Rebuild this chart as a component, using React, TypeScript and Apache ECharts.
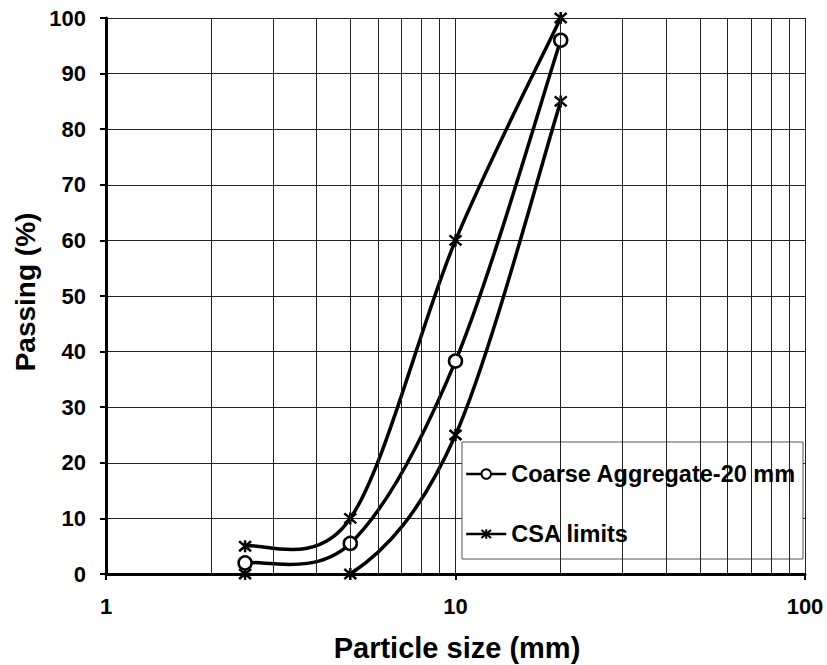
import React, { useEffect, useRef } from "react";
import * as echarts from "echarts";

const SIZES = [2.5, 5, 10, 20];
const COARSE = [2, 5.5, 38.3, 96];
const CSA_UPPER = [5, 10, 60, 100];
const CSA_LOWER = [0, 0, 25, 85];
const MINOR_X = [2, 3, 4, 5, 6, 7, 8, 9, 20, 30, 40, 50, 60, 70, 80, 90];
const NAME_COARSE = "Coarse Aggregate-20 mm";
const NAME_CSA = "CSA limits";
const X_TITLE = "Particle size (mm)";
const Y_TITLE = "Passing (%)";

const FONT = "'Liberation Sans', Arial, sans-serif";
const STAR = "path://M0,0L10,10M10,0L0,10M5,-1L5,11";
const TENSION = 1 / 6;

function curveSeries(id: string, ys: number[]) {
  return {
    id,
    name: id,
    type: "custom",
    silent: true,
    z: 2,
    data: [[SIZES[0], ys[0]]],
    renderItem: (params: any, api: any) => {
      const P = SIZES.map((x, i) => api.coord([x, ys[i]]));
      let d = `M${P[0][0]},${P[0][1]}`;
      for (let i = 0; i < P.length - 1; i++) {
        const p0 = P[i - 1] || P[i];
        const p1 = P[i];
        const p2 = P[i + 1];
        const p3 = P[i + 2] || P[i + 1];
        const c1x = p1[0] + (p2[0] - p0[0]) * TENSION;
        const c1y = p1[1] + (p2[1] - p0[1]) * TENSION;
        const c2x = p2[0] - (p3[0] - p1[0]) * TENSION;
        const c2y = p2[1] - (p3[1] - p1[1]) * TENSION;
        d += ` C${c1x},${c1y} ${c2x},${c2y} ${p2[0]},${p2[1]}`;
      }
      const cs = params.coordSys;
      return {
        type: "path",
        shape: { pathData: d },
        style: { fill: "none", stroke: "#000", lineWidth: 3.5 },
        clipPath: { type: "rect", shape: { x: cs.x, y: cs.y, width: cs.width, height: cs.height } },
      };
    },
  };
}

export default function App() {
  const ref = useRef<HTMLDivElement>(null);
  useEffect(() => {
    if (!ref.current) return;
    const chart = echarts.init(ref.current, null, { renderer: "svg" });
    const pts = (ys: number[]) => SIZES.map((x, i) => [x, ys[i]]);
    const hiddenLine = { color: "#000", width: 3, opacity: 0 };
    chart.setOption({
      animation: false,
      backgroundColor: "#fff",
      grid: { left: 106, top: 18, width: 699, height: 556 },
      xAxis: {
        type: "log",
        logBase: 10,
        min: 1,
        max: 100,
        axisLine: { show: true, onZero: false, lineStyle: { color: "#000", width: 3 } },
        axisTick: { show: true, length: 6, lineStyle: { color: "#000", width: 2 } },
        axisLabel: { color: "#000", fontFamily: FONT, fontWeight: "bold", fontSize: 22, margin: 21 },
        splitLine: { show: true, lineStyle: { color: "#222", width: 1 } },
        minorTick: { show: false },
        minorSplitLine: { show: false },
      },
      yAxis: {
        type: "value",
        min: 0,
        max: 100,
        interval: 10,
        axisLine: { show: true, lineStyle: { color: "#000", width: 3 } },
        axisTick: { show: true, length: 6, lineStyle: { color: "#000", width: 2 } },
        axisLabel: { color: "#000", fontFamily: FONT, fontWeight: "bold", fontSize: 22, margin: 20 },
        splitLine: { show: true, lineStyle: { color: "#222", width: 1 } },
      },
      legend: {
        data: [NAME_COARSE, NAME_CSA],
        orient: "vertical",
        left: 460,
        top: 457,
        itemGap: 36,
        itemWidth: 40,
        itemHeight: 12,
        z: 10,
        lineStyle: { color: "#000", width: 2.5, opacity: 1 },
        textStyle: { color: "#000", fontFamily: FONT, fontWeight: "bold", fontSize: 23.5 },
      },
      graphic: [
        {
          type: "rect",
          z: 5,
          shape: { x: 462, y: 442, width: 341, height: 117 },
          style: { fill: "#fff", stroke: "#555", lineWidth: 1 },
        },
        {
          type: "text",
          x: 457,
          y: 648,
          style: {
            text: X_TITLE,
            fill: "#000",
            font: `bold 29px ${FONT}`,
            textAlign: "center",
            textVerticalAlign: "middle",
          },
        },
        {
          type: "text",
          x: 25,
          y: 292,
          rotation: Math.PI / 2,
          style: {
            text: Y_TITLE,
            fill: "#000",
            font: `bold 28px ${FONT}`,
            textAlign: "center",
            textVerticalAlign: "middle",
          },
        },
      ],
      series: [
        {
          name: "grid",
          type: "line",
          data: [[1, 0]],
          symbol: "none",
          lineStyle: { opacity: 0 },
          silent: true,
          z: 1,
          markLine: {
            silent: true,
            symbol: "none",
            label: { show: false },
            lineStyle: { color: "#222", width: 1, type: "solid" },
            data: MINOR_X.map((v) => ({ xAxis: v })),
          },
        },
        curveSeries("curveUpper", CSA_UPPER),
        curveSeries("curveCoarse", COARSE),
        curveSeries("curveLower", CSA_LOWER),
        {
          name: NAME_CSA,
          type: "line",
          data: pts(CSA_UPPER),
          symbol: STAR,
          symbolSize: 12,
          lineStyle: hiddenLine,
          itemStyle: { color: "#000", borderColor: "#000", borderWidth: 2.5 },
          z: 3,
        },
        {
          name: NAME_COARSE,
          type: "line",
          data: pts(COARSE),
          symbol: "circle",
          symbolSize: 13,
          lineStyle: hiddenLine,
          itemStyle: { color: "#fff", borderColor: "#000", borderWidth: 2.5 },
          z: 4,
        },
        {
          name: NAME_CSA,
          type: "line",
          data: pts(CSA_LOWER),
          symbol: STAR,
          symbolSize: 12,
          lineStyle: hiddenLine,
          itemStyle: { color: "#000", borderColor: "#000", borderWidth: 2.5 },
          z: 3,
        },
      ],
    });
    return () => chart.dispose();
  }, []);
  return (
    <div
      ref={ref}
      style={{ position: "fixed", left: 0, top: 0, width: 827, height: 665, background: "#fff" }}
    />
  );
}
